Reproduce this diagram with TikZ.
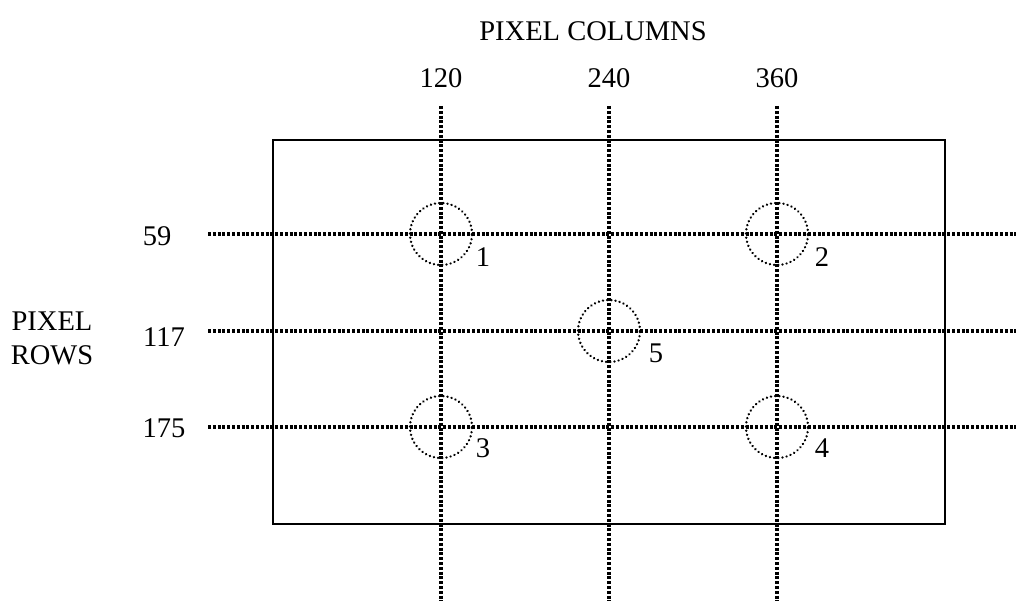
\documentclass[tikz,border=0pt]{standalone}
\usepackage{fontspec}
\setmainfont{Liberation Serif}
\begin{document}
\begin{tikzpicture}[x=1pt,y=-1pt,
  lbl/.style={font=\fontsize{28.5}{33}\selectfont, inner sep=0pt, anchor=center},
  gridline/.style={line width=3.2pt, dash pattern=on 3pt off 1.8pt},
  ring/.style={circle, draw, minimum size=62pt, inner sep=0pt, line width=2.6pt, dash pattern=on 0.01pt off 4.2pt, line cap=round},
  frame/.style={draw, line width=2.2pt}]
\useasboundingbox (0,0) rectangle (1016,601);
\draw[frame] (273,140) rectangle (945,524);
% grid lines
\foreach \x in {441,609,777} \draw[gridline] (\x,106) -- (\x,601);
\foreach \y in {234,331,427} \draw[gridline] (208,\y) -- (1016,\y);
% circles
\node[ring] (c1) at (441,234) {};
\node[ring] (c2) at (777,234) {};
\node[ring] (c5) at (609,331) {};
\node[ring] (c3) at (441,427) {};
\node[ring] (c4) at (777,427) {};
\node[lbl] (n1) at (483,257) {1};
\node[lbl] (n2) at (822,257) {2};
\node[lbl] (n5) at (656,353) {5};
\node[lbl] (n3) at (483,448) {3};
\node[lbl] (n4) at (822,448) {4};
% axis labels
\node[lbl] (cols) at (593,31) {PIXEL COLUMNS};
\node[lbl] (x1) at (441,78) {120};
\node[lbl] (x2) at (609,78) {240};
\node[lbl] (x3) at (777,78) {360};
\node[lbl] (y1) at (157,236) {59};
\node[lbl] (y2) at (164,337) {117};
\node[lbl] (y3) at (164,428) {175};
\node[lbl, align=center, font=\fontsize{28.5}{34}\selectfont] (rows) at (52,338) {PIXEL\\ROWS};
\end{tikzpicture}
\end{document}
